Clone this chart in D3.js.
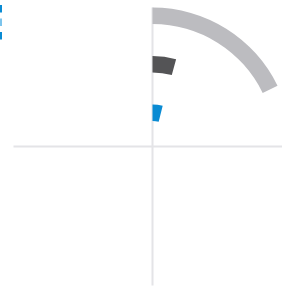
<!DOCTYPE html>
<html>
<head>
<meta charset="utf-8">
<script src="https://cdn.jsdelivr.net/npm/d3@7"></script>
<style>
  body { margin: 0; background: #fff; }
  svg { display: block; }
</style>
</head>
<body>
<svg id="chart" width="282" height="288"></svg>
<script>
// rings, inner to outer
var categories = ['A', 'B', 'C'];
var values = [3.9, 4.2, 17.8];   // percent of a full turn
var colors = ['#0a8bd3', '#545456', '#bcbcc0'];
var legendColors = ['#0a8bd3', '#7cc4ec', '#0a8bd3'];

var svg = d3.select('#chart'),
    cx = 152.5,
    cy = 146.5,
    R = 139;

var r = d3.scaleBand()
    .domain(categories)
    .range([0, R])
    .paddingInner(0.66)
    .paddingOuter(0.263)
    .align(1);

var a = d3.scaleLinear().domain([0, 100]).range([0, 2 * Math.PI]);

var g = svg.append('g').attr('transform', 'translate(' + cx + ',' + cy + ')');

// cross hairs
g.append('line')
    .attr('x1', -R).attr('x2', R).attr('y1', 0).attr('y2', 0)
    .attr('stroke', '#e4e4e7').attr('stroke-width', 2);
g.append('line')
    .attr('x1', 0).attr('x2', 0).attr('y1', -R).attr('y2', R)
    .attr('stroke', '#e4e4e7').attr('stroke-width', 2);

var arc = d3.arc()
    .innerRadius(function (d, i) { return r(categories[i]); })
    .outerRadius(function (d, i) { return r(categories[i]) + r.bandwidth(); })
    .startAngle(0)
    .endAngle(function (d) { return a(d); });

g.selectAll('path.ring')
    .data(values)
    .enter().append('path')
    .attr('class', 'ring')
    .attr('d', function (d, i) { return arc(d, i); })
    .attr('fill', function (d, i) { return colors[i]; });

// legend, mostly outside the view
svg.selectAll('rect.legend')
    .data(legendColors)
    .enter().append('rect')
    .attr('class', 'legend')
    .attr('x', -8)
    .attr('y', function (d, i) { return 5 + i * 13.5; })
    .attr('width', 10)
    .attr('height', 7.5)
    .attr('fill', function (d) { return d; });
</script>
</body>
</html>
